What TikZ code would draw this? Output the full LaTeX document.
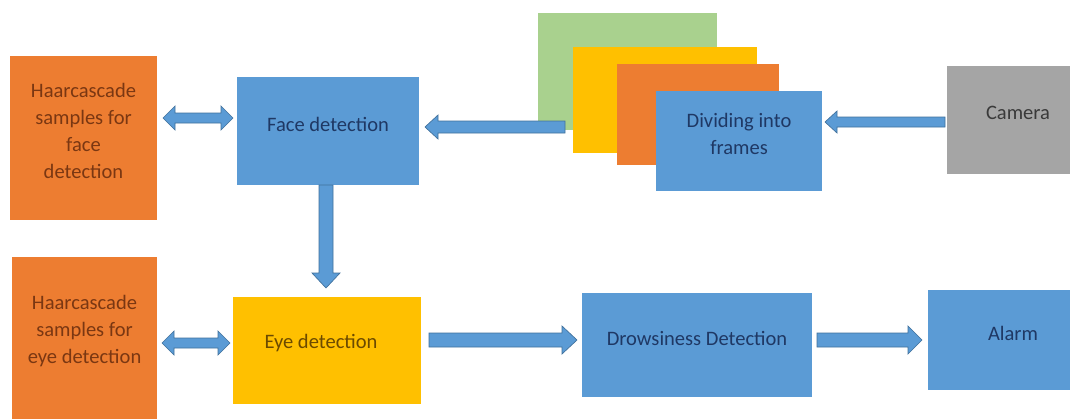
\documentclass[tikz,border=0pt]{standalone}
\usepackage{fontspec}
\setmainfont{Carlito}
\usetikzlibrary{calc}
\definecolor{bblue}{HTML}{5B9BD5}
\definecolor{adark}{HTML}{41719C}
\definecolor{orng}{HTML}{ED7D31}
\definecolor{yell}{HTML}{FFC000}
\definecolor{grn}{HTML}{A9D18E}
\definecolor{gry}{HTML}{A5A5A5}
\definecolor{tnavy}{HTML}{1F3864}
\definecolor{tbrown}{HTML}{7A3712}
\definecolor{tolive}{HTML}{6B4A00}
\definecolor{tgrey}{HTML}{3A3A3A}
\tikzset{
  box/.style={draw=none, inner sep=0pt, outer sep=0pt},
  lbl/.style={align=center, font=\fontsize{15.4}{20.2}\selectfont, inner sep=0pt, yshift=5.25pt},
  arr/.style={fill=bblue, draw=adark, line width=0.5pt, line join=miter},
}
% single block arrow: #1 start, #2 end, #3 dx, #4 dy, #5 shaft half, #6 head half, #7 head length
\newcommand\sarrow[7]{%
  \draw[arr] ($(#1)+({-(#4)*(#5)},{(#3)*(#5)})$)
    -- ($(#2)+({-(#3)*(#7)-(#4)*(#5)},{-(#4)*(#7)+(#3)*(#5)})$)
    -- ($(#2)+({-(#3)*(#7)-(#4)*(#6)},{-(#4)*(#7)+(#3)*(#6)})$)
    -- (#2)
    -- ($(#2)+({-(#3)*(#7)+(#4)*(#6)},{-(#4)*(#7)-(#3)*(#6)})$)
    -- ($(#2)+({-(#3)*(#7)+(#4)*(#5)},{-(#4)*(#7)-(#3)*(#5)})$)
    -- ($(#1)+({(#4)*(#5)},{-(#3)*(#5)})$) -- cycle;}
% horizontal double block arrow: #1 start (left), #2 end (right), #3 shaft half, #4 head half, #5 head length
\newcommand\dharrow[5]{%
  \draw[arr] (#1) -- ($(#1)+(#5,-#4)$) -- ($(#1)+(#5,-#3)$) -- ($(#2)+(-#5,-#3)$)
    -- ($(#2)+(-#5,-#4)$) -- (#2) -- ($(#2)+(-#5,#4)$) -- ($(#2)+(-#5,#3)$)
    -- ($(#1)+(#5,#3)$) -- ($(#1)+(#5,#4)$) -- cycle;}
\begin{document}
\begin{tikzpicture}[x=0.75pt, y=-0.75pt]
\useasboundingbox (0,0) rectangle (1070,419);
\fill[white] (0,0) rectangle (1070,419);
\clip (0,0) rectangle (1070,419);

% left column
\node[box, fill=orng, minimum width=147*0.75pt, minimum height=164*0.75pt,
  label={[lbl, text=tbrown]center:{Haarcascade\\samples for\\face\\detection}}] (haar1) at (83.5,138) {};
\node[box, fill=orng, minimum width=145*0.75pt, minimum height=162*0.75pt,
  label={[lbl, text=tbrown]center:{Haarcascade\\samples for\\eye detection}}] (haar2) at (84.5,338) {};

% processing boxes
\node[box, fill=bblue, minimum width=182*0.75pt, minimum height=108*0.75pt,
  label={[lbl, text=tnavy]center:{Face detection}}] (face) at (328,131) {};
\node[box, fill=yell, minimum width=188*0.75pt, minimum height=107*0.75pt,
  label={[lbl, text=tolive, xshift=-4.5pt]center:{Eye detection}}] (eye) at (327,350.5) {};
\node[box, fill=bblue, minimum width=230*0.75pt, minimum height=104*0.75pt,
  label={[lbl, text=tnavy]center:{Drowsiness Detection}}] (drowsy) at (697,345) {};
\node[box, fill=bblue, minimum width=170*0.75pt, minimum height=100*0.75pt,
  label={[lbl, text=tnavy]center:{Alarm}}] (alarm) at (1013,340) {};
\node[box, fill=gry, minimum width=142*0.75pt, minimum height=108*0.75pt,
  label={[lbl, text=tgrey]center:{Camera}}] (camera) at (1018,120) {};

% stacked frames
\node[box, fill=grn, minimum width=179*0.75pt, minimum height=117*0.75pt] (fgreen) at (627.5,71.5) {};
\coordinate (fas) at ($(fgreen.south west)+(27,-3)$);
\node[box, fill=yell, minimum width=184*0.75pt, minimum height=106*0.75pt] (fyellow) at (665,100) {};
\node[box, fill=orng, minimum width=162*0.75pt, minimum height=101*0.75pt] (forange) at (698,114.5) {};
\node[box, fill=bblue, minimum width=166*0.75pt, minimum height=100*0.75pt,
  label={[lbl, text=tnavy]center:{Dividing into\\frames}}] (frames) at (739,141) {};

% connector end points
\coordinate (d1s) at ($(haar1.east)+(6,-20)$);
\coordinate (d1e) at ($(face.west)+(-4,-13)$);
\coordinate (fa) at ($(fyellow.west)+(-8,27)$);
\coordinate (fb) at ($(face.east)+(6,-4)$);
\coordinate (ca) at ($(camera.west)+(-2,2)$);
\coordinate (cb) at ($(frames.east)+(3,-19)$);
\coordinate (da) at ($(face.south)+(-2,0)$);
\coordinate (db) at ($(eye.north)+(-1,-9)$);
\coordinate (d2s) at ($(haar2.east)+(5,5)$);
\coordinate (d2e) at ($(eye.west)+(-3,-7.5)$);
\coordinate (ea) at ($(eye.east)+(8,-10.5)$);
\coordinate (eb) at ($(drowsy.west)+(-5,-5)$);
\coordinate (ra) at ($(drowsy.east)+(5,-5)$);
\coordinate (rb) at ($(alarm.west)+(-6,0)$);

% connectors
\dharrow{d1s}{d1e}{5}{12}{12}
\dharrow{d2s}{d2e}{5}{12}{12}
\sarrow{fa}{fb}{-1}{0}{6}{12}{13}
\sarrow{ca}{cb}{-1}{0}{5}{11}{12}
\sarrow{da}{db}{0}{1}{7}{14}{15}
\sarrow{ea}{eb}{1}{0}{7}{14}{15}
\sarrow{ra}{rb}{1}{0}{7}{14}{14}
\end{tikzpicture}
\end{document}
